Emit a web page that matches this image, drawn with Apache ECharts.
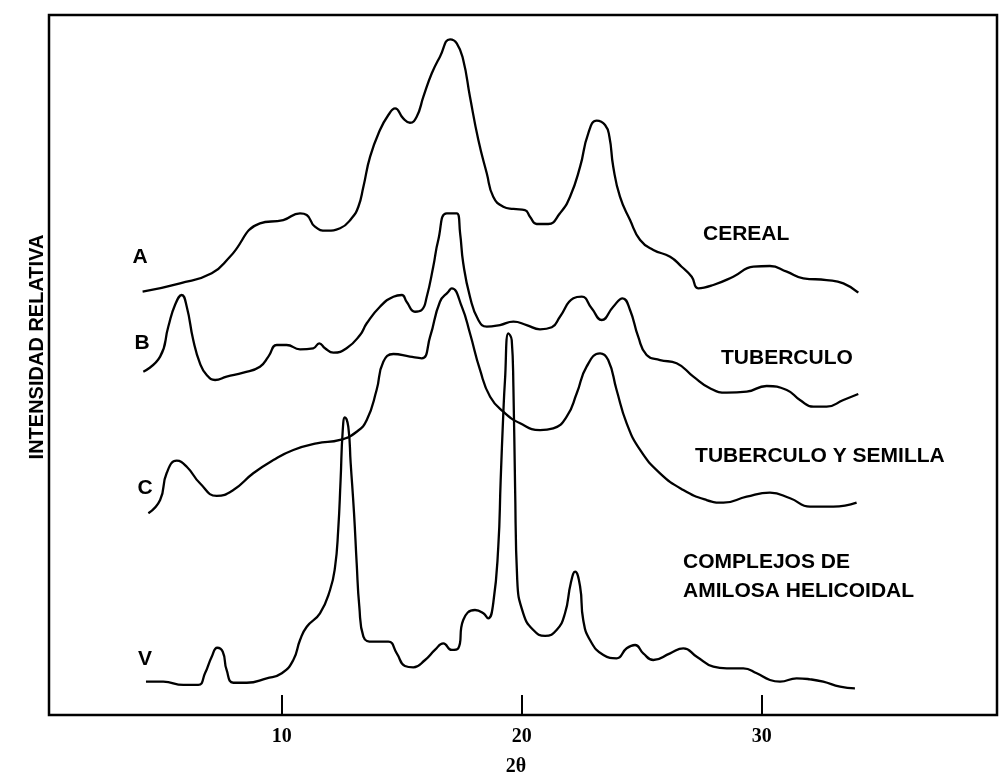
<!DOCTYPE html>
<html>
<head>
<meta charset="utf-8">
<script src="https://cdn.jsdelivr.net/npm/echarts@6/dist/echarts.min.js"></script>
<style>
  html, body { margin: 0; padding: 0; background: #fff; }
  #chart { width: 1000px; height: 780px; }
</style>
</head>
<body>
<div id="chart"></div>
<script>
// 2θ values that carry a tick and a label
const tickValues = [10, 20, 30];

// Diffraction traces as [2θ, relative intensity]; each trace sits on its own baseline
const cereal = [
  [4.20, 60.47], [5.76, 61.67], [7.08, 63.10], [7.84, 65.47], [9.09, 70.24], [10.06, 70.71],
  [10.76, 71.67], [11.04, 71.43], [11.38, 69.76], [11.87, 69.19], [12.43, 69.53], [12.91, 70.96],
  [13.19, 72.61], [13.40, 75.47], [13.68, 79.76], [14.09, 83.57], [14.44, 85.71], [14.72, 86.67],
  [15.06, 85.24], [15.34, 84.61], [15.62, 85.47], [15.90, 88.33], [16.25, 91.67], [16.59, 94.04],
  [17.01, 96.53], [17.29, 95.96], [17.56, 93.57], [17.84, 88.33], [18.19, 82.14], [18.54, 77.39],
  [18.81, 74.04], [19.23, 72.61], [19.65, 72.29], [20.13, 72.14], [20.34, 71.19], [20.62, 70.14],
  [21.10, 70.14], [21.59, 71.67], [22.01, 74.04], [22.43, 78.33], [22.77, 83.10], [23.12, 84.90],
  [23.47, 84.29], [23.65, 82.61], [23.81, 78.33], [24.09, 74.04], [24.51, 70.71], [24.93, 67.86],
  [25.48, 66.43], [26.18, 65.47], [26.66, 64.04], [27.08, 62.61], [27.35, 60.96], [27.98, 61.43],
  [28.81, 62.61], [29.65, 64.04], [30.34, 64.14], [31.04, 63.33], [31.73, 62.39], [32.70, 62.14],
  [33.40, 61.67], [34.02, 60.33]
];

const tuberculo = [
  [4.23, 49.04], [4.93, 51.19], [5.27, 55.47], [5.55, 58.57], [5.83, 60.00], [6.04, 58.33],
  [6.31, 53.57], [6.59, 50.24], [6.87, 48.57], [7.22, 47.86], [7.70, 48.33], [8.40, 48.90],
  [9.09, 49.76], [9.44, 51.19], [9.79, 52.86], [10.20, 52.86], [10.76, 52.24], [11.31, 52.39],
  [11.56, 53.10], [11.80, 52.39], [12.15, 51.76], [12.70, 52.39], [13.26, 54.29], [13.54, 55.96],
  [14.09, 58.33], [14.65, 59.76], [15.00, 60.00], [15.20, 59.04], [15.55, 57.61], [15.83, 57.86],
  [16.04, 59.76], [16.31, 64.04], [16.52, 67.86], [16.87, 71.67], [17.29, 71.67], [17.43, 68.81],
  [17.56, 64.53], [17.84, 59.76], [18.19, 56.43], [18.54, 55.47], [19.09, 55.71], [19.65, 56.19],
  [20.20, 55.71], [20.76, 55.10], [21.25, 55.39], [21.59, 56.90], [22.15, 59.53], [22.50, 59.76],
  [22.91, 58.10], [23.33, 56.43], [23.81, 58.33], [24.20, 59.53], [24.51, 57.86], [24.85, 54.04],
  [25.20, 51.43], [25.76, 50.71], [26.45, 50.24], [27.15, 48.33], [27.84, 46.67], [28.54, 46.04],
  [29.37, 46.19], [30.20, 47.00], [31.04, 46.43], [31.59, 45.00], [32.15, 44.04], [32.70, 44.04],
  [33.40, 45.00], [34.02, 45.86]
];

const tuberculoSemilla = [
  [4.44, 28.81], [4.93, 30.71], [5.20, 34.53], [5.62, 36.33], [6.04, 35.47], [6.59, 33.10],
  [7.29, 31.29], [7.98, 32.14], [8.81, 34.53], [9.65, 36.43], [10.48, 37.86], [11.45, 38.81],
  [12.43, 39.29], [13.12, 40.47], [13.54, 42.14], [13.95, 46.43], [14.23, 50.47], [14.65, 51.57],
  [15.34, 51.19], [15.83, 50.96], [16.18, 54.04], [16.59, 59.04], [16.94, 60.47], [17.08, 60.96],
  [17.50, 58.33], [17.84, 54.53], [18.26, 49.29], [18.68, 45.47], [19.23, 43.33], [19.93, 41.67],
  [20.76, 40.71], [21.31, 40.96], [21.87, 42.61], [22.29, 45.96], [22.70, 49.76], [23.26, 51.67],
  [23.60, 50.71], [23.95, 46.43], [24.37, 41.67], [24.93, 37.86], [25.76, 34.53], [26.73, 32.14],
  [27.70, 30.71], [28.40, 30.33], [29.37, 31.19], [30.34, 31.76], [31.18, 30.96], [32.01, 29.76],
  [32.98, 29.76], [33.95, 30.33]
];

const amilosaV = [
  [4.34, 4.76], [5.06, 4.76], [5.90, 4.29], [6.52, 4.29], [6.80, 5.96], [7.08, 8.33],
  [7.31, 9.61], [7.54, 9.04], [7.70, 6.43], [7.98, 4.61], [8.54, 4.61], [9.37, 5.24],
  [10.00, 5.96], [10.48, 7.86], [10.76, 10.71], [11.04, 12.61], [11.59, 14.53], [12.01, 17.86],
  [12.22, 21.19], [12.35, 26.43], [12.45, 33.57], [12.54, 40.71], [12.63, 42.53], [12.77, 41.19],
  [12.87, 35.96], [13.01, 28.81], [13.12, 21.67], [13.23, 15.47], [13.40, 11.19], [13.81, 10.47],
  [14.44, 10.47], [14.79, 8.81], [15.13, 7.00], [15.48, 6.81], [15.97, 7.86], [16.38, 9.29],
  [16.73, 10.24], [17.08, 9.29], [17.35, 9.53], [17.56, 13.57], [18.05, 15.00], [18.40, 14.53],
  [18.60, 13.81], [18.81, 15.96], [19.02, 24.04], [19.12, 33.57], [19.23, 43.10], [19.30, 47.86],
  [19.44, 54.53], [19.58, 53.57], [19.65, 46.90], [19.72, 32.61], [19.81, 19.29], [20.06, 14.53],
  [20.48, 12.14], [20.97, 11.29], [21.45, 12.14], [21.80, 14.53], [22.04, 18.81], [22.22, 20.47],
  [22.43, 18.33], [22.56, 13.57], [22.84, 10.71], [23.40, 8.57], [23.95, 8.10], [24.37, 9.53],
  [24.72, 10.00], [25.06, 8.81], [25.48, 7.86], [26.18, 8.81], [26.73, 9.53], [27.29, 8.33],
  [27.98, 6.90], [28.54, 6.67], [29.23, 6.67], [29.79, 5.96], [30.34, 5.00], [30.76, 4.76],
  [31.45, 5.24], [32.01, 5.10], [32.56, 4.76], [33.26, 4.04], [33.88, 3.81]
];

// Trace letters at the start of each pattern
const traceLetters = [
  { text: 'A', x: 4.09, y: 65.4 },
  { text: 'B', x: 4.18, y: 53.1 },
  { text: 'C', x: 4.30, y: 32.4 },
  { text: 'V', x: 4.30, y: 7.9 }
];

// Sample names to the right of each pattern
const sampleNames = [
  { text: 'CEREAL', x: 27.55, y: 68.7 },
  { text: 'TUBERCULO', x: 28.30, y: 51.0 },
  { text: 'TUBERCULO Y SEMILLA', x: 27.22, y: 36.9 },
  { text: 'COMPLEJOS DE\nAMILOSA HELICOIDAL', x: 26.72, y: 19.7 }
];

const traces = [cereal, tuberculo, tuberculoSemilla, amilosaV];
const traceNames = ['A', 'B', 'C', 'V'];

const chart = echarts.init(document.getElementById('chart'));

const labelFont = {
  fontFamily: 'Liberation Sans, Arial, sans-serif',
  fontWeight: 'bold',
  fontSize: 21,
  color: '#000',
  textBorderWidth: 0
};

const lineSeries = traces.map((data, i) => ({
  name: traceNames[i],
  type: 'line',
  data: data,
  smooth: 0.5,
  showSymbol: false,
  silent: true,
  lineStyle: { color: '#000', width: 2.3 }
}));

const textSeries = (items, align) => ({
  type: 'scatter',
  silent: true,
  symbolSize: 0,
  itemStyle: { opacity: 1 },
  data: items.map(d => ({ value: [d.x, d.y], name: d.text })),
  label: Object.assign({
    show: true,
    position: 'inside',
    align: align,
    verticalAlign: 'middle',
    lineHeight: 29,
    formatter: p => p.name
  }, labelFont)
});

chart.setOption({
  animation: false,
  backgroundColor: '#fff',
  grid: {
    left: 49, right: 3, top: 15, bottom: 65,
    show: true,
    borderColor: '#000',
    borderWidth: 2.5,
    backgroundColor: 'transparent'
  },
  xAxis: {
    type: 'value',
    min: 0.3,
    max: 39.8,
    splitLine: { show: false },
    axisLine: { show: false },
    axisTick: {
      show: true,
      inside: true,
      length: 20,
      customValues: tickValues,
      lineStyle: { color: '#000', width: 2 }
    },
    axisLabel: {
      customValues: tickValues,
      margin: 12,
      fontFamily: 'Liberation Serif, Times New Roman, serif',
      fontWeight: 'bold',
      fontSize: 20,
      color: '#000'
    }
  },
  yAxis: {
    type: 'value',
    min: 0,
    max: 100,
    axisLine: { show: false },
    axisTick: { show: false },
    axisLabel: { show: false },
    splitLine: { show: false }
  },
  series: lineSeries.concat([
    textSeries(traceLetters, 'center'),
    textSeries(sampleNames, 'left')
  ]),
  graphic: [
    {
      type: 'text',
      x: 37,
      y: 347,
      rotation: Math.PI / 2,
      style: {
        text: 'INTENSIDAD RELATIVA',
        textAlign: 'center',
        textVerticalAlign: 'middle',
        font: 'bold 20px "Liberation Sans", Arial, sans-serif',
        fill: '#000'
      }
    },
    {
      type: 'text',
      x: 516,
      y: 767,
      style: {
        text: '2θ',
        textAlign: 'center',
        textVerticalAlign: 'middle',
        font: 'bold 20px "Liberation Serif", "Times New Roman", serif',
        fill: '#000'
      }
    }
  ]
});
</script>
</body>
</html>
